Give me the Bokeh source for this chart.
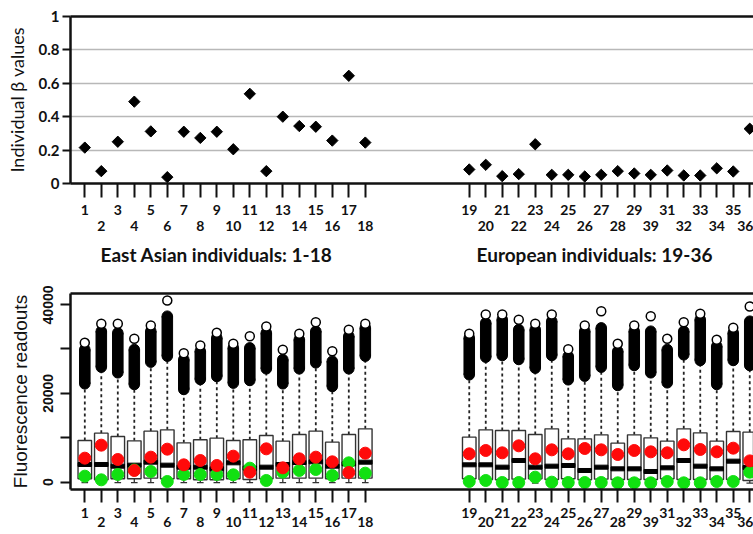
import math
from bokeh.plotting import figure
from bokeh.models import Range1d, FixedTicker, LinearAxis, Grid
from bokeh.layouts import column
from bokeh.embed import file_html
from bokeh.resources import INLINE

# ---------------- data ----------------
individuals = ["1", "2", "3", "4", "5", "6", "7", "8", "9", "10", "11", "12", "13", "14", "15", "16", "17", "18",
               "19", "20", "21", "22", "23", "24", "25", "26", "27", "28", "29", "39", "31", "32", "33", "34", "35", "36"]

beta_values = [0.215, 0.074, 0.25, 0.49, 0.312, 0.038, 0.31, 0.273, 0.31, 0.205, 0.537, 0.074, 0.40, 0.344, 0.34, 0.257, 0.645, 0.245,
               0.084, 0.112, 0.044, 0.056, 0.235, 0.052, 0.052, 0.042, 0.052, 0.074, 0.06, 0.052, 0.078, 0.048, 0.048, 0.091, 0.072, 0.328]

whisker_low = [-100, -100, -100, -100, -100, -100, -100, -100, -100, -100, -100, -100, -100, -100, -100, -100, -100, -100,
               -100, -100, -100, -100, -200, -100, -100, -100, -100, -100, -100, -100, -100, -100, -100, -100, -100, -200]

box_q1 = [760, 535, 760, 760, 910, 760, 760, 535, 535, 760, 610, 760, 910, 910, 910, 760, 910, 910,
          760, 610, 535, 685, 760, 610, 760, 535, 685, 610, 610, 610, 760, 610, 610, 610, 610, 385]

box_median = [3986, 3986, 3610, 3835, 4511, 3835, 3385, 3385, 3010, 4361, 3160, 3385, 3986, 4436, 4586, 3610, 4136, 4511,
              3911, 3911, 3385, 4887, 3385, 3610, 3760, 2636, 3385, 3010, 3010, 2411, 3235, 4887, 3610, 3010, 4736, 3300]

box_q3 = [9388, 11039, 10289, 9313, 11489, 11789, 8863, 9539, 9914, 9388, 9539, 10514, 9238, 10739, 11489, 9013, 10739, 12015,
          10139, 11789, 11639, 11639, 10739, 12015, 9764, 9764, 10664, 8788, 10664, 9989, 9238, 12015, 11114, 9238, 11414, 11264]

outlier_low = [22144, 25895, 24620, 21994, 27021, 28371, 20868, 23119, 23794, 22294, 22894, 25520, 22144, 25520, 26870, 21543, 25520, 28371,
               24170, 28146, 28521, 27621, 25670, 28521, 23044, 23869, 25895, 21769, 26270, 24620, 22369, 28671, 27396, 21994, 27396, 26270]

outlier_high = [29872, 33998, 33623, 29872, 33998, 37375, 27621, 29497, 32497, 30247, 30247, 33623, 27621, 32122, 33998, 27246, 32872, 34748,
                32497, 35874, 36625, 34373, 34373, 36250, 28371, 33998, 34748, 29497, 33998, 33998, 29872, 33998, 36625, 30622, 33623, 36250]

outlier_max = [31372, 35649, 35649, 32272, 35274, 40901, 29046, 30772, 33623, 31147, 32872, 35049, 29797, 33398, 36024, 29497, 34298, 35649,
               33398, 37750, 37750, 36550, 35649, 37750, 29947, 35274, 38500, 31147, 35274, 37375, 32272, 36024, 37900, 32047, 34748, 39550]

red_points = [5412, 8338, 5111, 2636, 5637, 7437, 3911, 4887, 3760, 5862, 2260, 7511, 3235, 5262, 5637, 4586, 2185, 6537,
              6387, 7138, 6612, 8188, 5262, 7287, 6387, 7588, 7287, 6237, 7138, 6837, 6612, 8413, 7362, 6837, 7663, 4800]

green_points = [1360, 535, 1735, 2750, 2411, 160, 1735, 1735, 1735, 1660, 3160, 385, 2260, 2636, 2860, 1510, 4361, 2035,
                160, 385, -65, -65, 1135, 10, -65, -65, -65, -140, -140, -140, 160, -140, -140, 160, 160, 2260]

group_titles = ["East Asian individuals: 1-18", "European individuals: 19-36"]
beta_ticks = [0, 0.2, 0.4, 0.6, 0.8, 1]
beta_grid = [0.2, 0.4, 0.6, 0.8]
fluor_ticks = [0, 10000, 20000, 30000, 40000]
fluor_labels = {0: "0", 10000: "", 20000: "20000", 30000: "", 40000: "40000"}

# ---------------- layout ----------------
W = 753
LEFT = 70
SPACING = 16.5
FIRST_PX = 84.3
GAP = 5.3
GROUP_SIZE = 18
n = len(individuals)
pos = [i + 1 + (GAP if i >= GROUP_SIZE else 0) for i in range(n)]
x_start = 1 - (FIRST_PX - LEFT) / SPACING
x_end = x_start + (W - LEFT) / SPACING

H1, TOP1, BOT1 = 285, 16, 102
H2, TOP2, BOT2 = 249, 8, 45
FONT = "Lato"
INK = "#111111"

odd_pos = [pos[i] for i in range(n) if i % 2 == 0]
even_pos = [pos[i] for i in range(n) if i % 2 == 1]
odd_lab = {pos[i]: individuals[i] for i in range(n) if i % 2 == 0}
even_lab = {pos[i]: individuals[i] for i in range(n) if i % 2 == 1}


def label_axis(ticks, overrides, standoff, size, tick_out=0, line=False):
    ax = LinearAxis(ticker=FixedTicker(ticks=ticks), major_label_overrides=overrides,
                    major_tick_out=tick_out, major_tick_in=0, minor_tick_out=0, minor_tick_in=0,
                    major_tick_line_width=2, major_tick_line_color=INK,
                    major_label_standoff=standoff, major_label_text_font=FONT,
                    major_label_text_font_style="bold", major_label_text_font_size=size,
                    major_label_text_color=INK)
    if line:
        ax.axis_line_width = 2.5
        ax.axis_line_color = INK
    else:
        ax.axis_line_color = None
    return ax


def make_fig(h, top, bottom, yr, tick_out, s1, s2):
    p = figure(width=W, height=h, x_range=Range1d(x_start, x_end), y_range=yr,
               output_backend="svg", toolbar_location=None,
               min_border_left=LEFT, min_border_right=0, min_border_top=top, min_border_bottom=bottom,
               x_axis_type=None, y_axis_type=None)
    p.outline_line_color = None
    p.background_fill_color = "white"
    p.border_fill_color = "white"
    ax_top = LinearAxis(ticker=FixedTicker(ticks=[]), axis_line_width=2.5, axis_line_color=INK,
                        major_tick_out=0, major_tick_in=0, minor_tick_out=0, minor_tick_in=0,
                        major_label_standoff=0,
                        major_label_text_font_size="1px", major_label_text_color=None)
    p.add_layout(ax_top, "above")
    ax_a = label_axis(pos, {**{q: "" for q in even_pos}, **odd_lab}, s1, "14px", tick_out=tick_out, line=True)
    p.add_layout(ax_a, "below")
    ax_b = label_axis(even_pos, even_lab, s2, "14px")
    p.add_layout(ax_b, "below")
    return p


# ---------------- top chart ----------------
yr1 = Range1d(0, 1)
p1 = make_fig(H1, TOP1, BOT1, yr1, 14, 7, 3)
ay1 = LinearAxis(ticker=FixedTicker(ticks=beta_ticks), major_label_overrides={0.0: "0", 1.0: "1"},
                 axis_line_width=2.5, axis_line_color=INK, major_tick_out=8, major_tick_in=0,
                 minor_tick_out=0, minor_tick_in=0, major_tick_line_width=2, major_tick_line_color=INK,
                 major_label_standoff=3, major_label_text_font=FONT, major_label_text_font_style="bold",
                 major_label_text_font_size="15px", major_label_text_color=INK,
                 axis_label="Individual β values", axis_label_standoff=8, axis_label_text_font=FONT,
                 axis_label_text_font_style="normal", axis_label_text_font_size="18px",
                 axis_label_text_color=INK)
p1.add_layout(ay1, "left")
p1.add_layout(Grid(dimension=1, ticker=FixedTicker(ticks=beta_grid), grid_line_color="#B8B8B8",
                   grid_line_width=1.5), "center")
p1.scatter(x=pos, y=beta_values, marker="square", angle=math.pi / 4, size=8, color="black")

title_px = [216, 594]
title_x = [x_start + (t - LEFT) / SPACING for t in title_px]
ax_c = label_axis(title_x, dict(zip(title_x, group_titles)), 9, "19px")
p1.add_layout(ax_c, "below")

# ---------------- bottom chart ----------------
yr2 = Range1d(-1643, 42477)
p2 = make_fig(H2, TOP2, BOT2, yr2, 13, 5, -4)
ay2 = LinearAxis(ticker=FixedTicker(ticks=fluor_ticks), major_label_overrides=fluor_labels,
                 axis_line_width=2.5, axis_line_color=INK, major_tick_out=10, major_tick_in=0,
                 minor_tick_out=0, minor_tick_in=0, major_tick_line_width=2, major_tick_line_color=INK,
                 major_label_orientation="vertical", major_label_standoff=7,
                 major_label_text_font="Liberation Sans", major_label_text_font_style="bold",
                 major_label_text_font_size="14px", major_label_text_color=INK,
                 axis_label="Fluorescence readouts", axis_label_standoff=10,
                 axis_label_text_font="Liberation Sans", axis_label_text_font_style="normal",
                 axis_label_text_font_size="19px", axis_label_text_color=INK)
p2.add_layout(ay2, "left")

BOX_W = 0.82
p2.segment(x0=pos, y0=box_q3, x1=pos, y1=outlier_low, line_color="#222222", line_width=1.8, line_dash="3 3")
p2.segment(x0=pos, y0=whisker_low, x1=pos, y1=box_q1, line_color="#333333", line_width=1.3)
p2.segment(x0=[x - 0.2 for x in pos], y0=whisker_low, x1=[x + 0.2 for x in pos], y1=whisker_low,
           line_color="#333333", line_width=1.3)
p2.vbar(x=pos, width=BOX_W, bottom=box_q1, top=box_q3, fill_color="white", line_color="#333333", line_width=1.4)
p2.rect(x=pos, y=box_median, width=BOX_W, height=4, height_units="screen", color="black")
p2.vbar(x=pos, width=0.64, bottom=outlier_low, top=outlier_high, color="black")
p2.scatter(x=pos, y=outlier_low, size=10.5, marker="circle", color="black")
p2.scatter(x=pos, y=outlier_high, size=10.5, marker="circle", color="black")
p2.scatter(x=pos, y=outlier_max, size=9, marker="circle", fill_color="white", line_color="black", line_width=1.5)
p2.scatter(x=pos, y=green_points, size=12, marker="circle", color="#11E011")
p2.scatter(x=pos, y=red_points, size=12, marker="circle", color="#FF0A0A")

layout = column(p1, p2, spacing=0)
open("out.html", "w").write(file_html(layout, INLINE))
